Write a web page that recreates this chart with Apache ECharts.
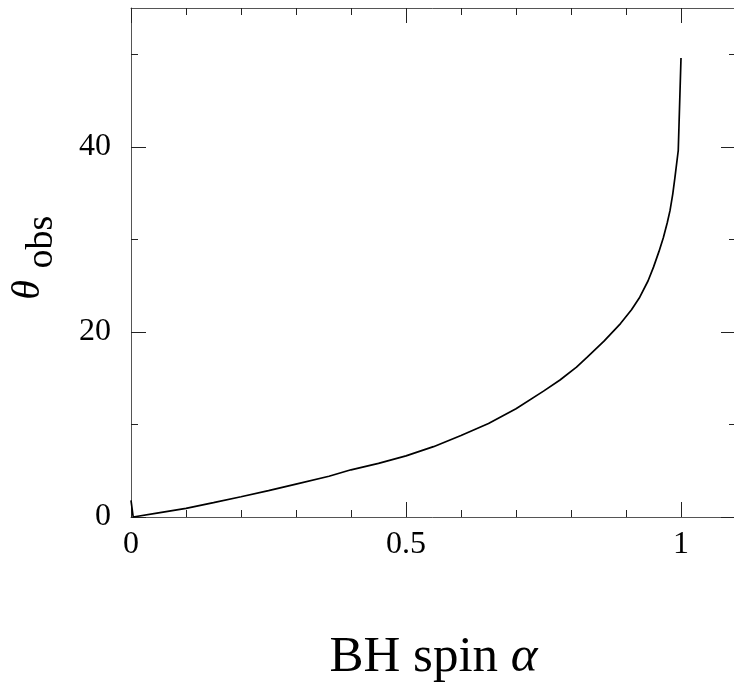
<!DOCTYPE html>
<html>
<head>
<meta charset="utf-8">
<script src="https://cdn.jsdelivr.net/npm/echarts@6/dist/echarts.min.js"></script>
<style>
html,body{margin:0;padding:0;background:#fff;}
#chart{width:734px;height:687px;}
</style>
</head>
<body>
<div id="chart"></div>
<script>
const spin = [0, 0.004, 0.05, 0.1, 0.15, 0.2, 0.25, 0.3, 0.36, 0.4, 0.45, 0.5, 0.55, 0.6, 0.65, 0.7, 0.75, 0.78, 0.81, 0.83, 0.86, 0.89, 0.91, 0.925, 0.94, 0.95, 0.96, 0.968, 0.975, 0.98, 0.985, 0.989, 0.995, 1.0];
const thetaObs = [1.8, 0, 0.45, 0.94, 1.55, 2.19, 2.85, 3.56, 4.4, 5.1, 5.8, 6.6, 7.6, 8.8, 10.1, 11.7, 13.6, 14.8, 16.2, 17.3, 19.0, 20.9, 22.4, 23.75, 25.5, 27.0, 28.7, 30.2, 31.8, 33.1, 34.9, 36.7, 39.6, 49.6];

const xMajor = [0, 0.5, 1];
const xMinor = [0.1, 0.2, 0.3, 0.4, 0.6, 0.7, 0.8, 0.9];
const yMajor = [0, 20, 40];
const yMinor = [10, 30, 50];
const xRange = [0, 1.1];
const yRange = [0, 55];
const xTitle = 'BH spin {a|α}';
const yTitleMain = 'θ';
const yTitleSub = 'obs';

const FONT = '"Liberation Serif", "DejaVu Serif", serif';
const lineCol = '#555';
const tickCol = '#222';

function axisX(pos, ticks, len, labels, lineShow) {
  return {
    type: 'value', position: pos, min: xRange[0], max: xRange[1],
    axisLine: {show: lineShow, onZero: false, lineStyle: {color: lineCol, width: 1}},
    axisTick: {show: true, inside: true, length: len, customValues: ticks, lineStyle: {color: tickCol, width: 1}},
    axisLabel: labels ? {show: true, customValues: labels, color: '#000', fontFamily: FONT, fontSize: 32, margin: 12,
      formatter: v => String(+v.toFixed(2))} : {show: false},
    splitLine: {show: false}
  };
}
function axisY(pos, ticks, len, labels, lineShow) {
  return {
    type: 'value', position: pos, min: yRange[0], max: yRange[1],
    axisLine: {show: lineShow, onZero: false, lineStyle: {color: lineCol, width: 1}},
    axisTick: {show: true, inside: true, length: len, customValues: ticks, lineStyle: {color: tickCol, width: 1}},
    axisLabel: labels ? {show: true, customValues: labels, color: '#000', fontFamily: FONT, fontSize: 32, margin: 20,
      formatter: v => String(v)} : {show: false},
    splitLine: {show: false}
  };
}

const xAxes = [
  axisX('bottom', xMajor, 15, xMajor, true),
  axisX('bottom', xMinor, 7, null, false),
  axisX('top', xMajor, 15, null, true),
  axisX('top', xMinor, 7, null, false)
];
xAxes[0].name = xTitle;
xAxes[0].nameLocation = 'middle';
xAxes[0].nameGap = 115;
xAxes[0].nameTextStyle = {color: '#000', fontFamily: FONT, fontSize: 51,
  rich: {a: {fontFamily: FONT, fontSize: 51, fontStyle: 'italic', color: '#000'}}};

const yAxes = [
  axisY('left', yMajor, 15, yMajor, true),
  axisY('left', yMinor, 7, null, false),
  axisY('right', yMajor, 15, null, true),
  axisY('right', yMinor, 7, null, false)
];

const chart = echarts.init(document.getElementById('chart'), null, {renderer: 'canvas'});
chart.setOption({
  animation: false,
  backgroundColor: '#fff',
  grid: {left: 131, top: 8, width: 605, height: 509, containLabel: false, outerBoundsMode: 'none'},
  xAxis: xAxes,
  yAxis: yAxes,
  graphic: [
    {type: 'text', x: 28, y: 290, rotation: Math.PI / 2,
      style: {text: yTitleMain, font: 'italic 40px ' + FONT, fill: '#000', align: 'center', verticalAlign: 'middle'}},
    {type: 'text', x: 42, y: 242, rotation: Math.PI / 2,
      style: {text: yTitleSub, font: '38px ' + FONT, fill: '#000', align: 'center', verticalAlign: 'middle'}}
  ],
  series: [{
    type: 'line',
    xAxisIndex: 0, yAxisIndex: 0,
    data: spin.map((a, i) => [a, thetaObs[i]]),
    showSymbol: false,
    smooth: false,
    clip: true,
    lineStyle: {color: '#000', width: 1.7}
  }]
});
</script>
</body>
</html>
